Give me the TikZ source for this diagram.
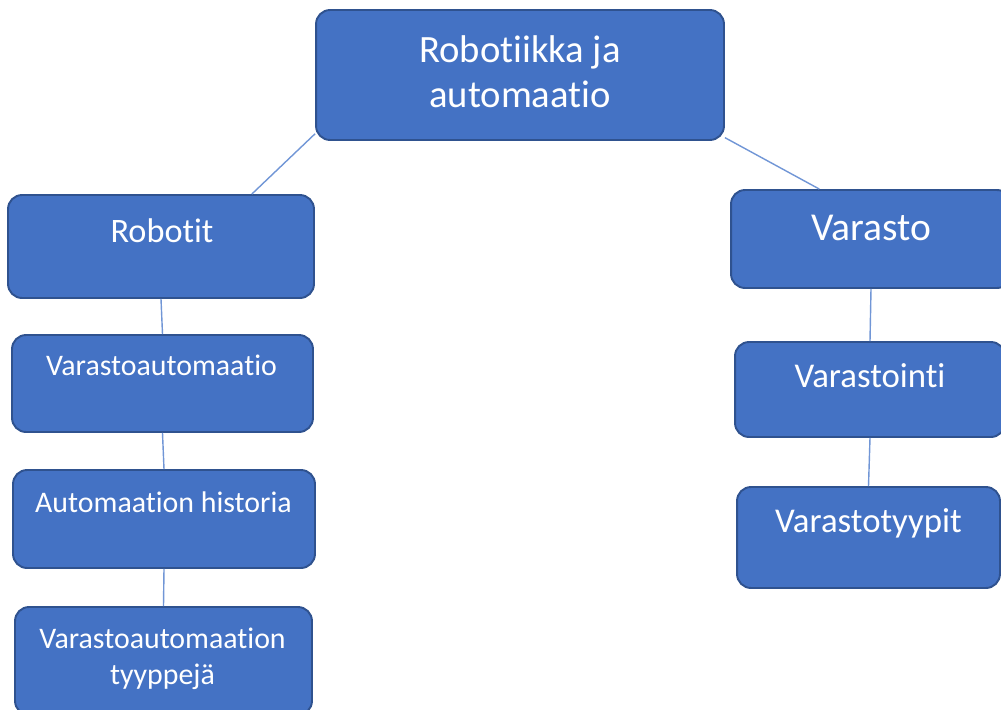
\documentclass[tikz,border=0pt]{standalone}
\usepackage{fontspec}
\setmainfont{Carlito}[Ligatures={NoCommon,NoContextual}, Contextuals={NoAlternate}]
\definecolor{boxblue}{HTML}{4472C4}
\definecolor{boxedge}{HTML}{2F528F}
\definecolor{linkblue}{HTML}{7196D6}
\begin{document}
\begin{tikzpicture}
[
    x=0.02cm, y=-0.02cm,
    box/.style={draw=boxedge, line width=1.1pt, fill=boxblue, rounded corners=8pt, inner sep=0pt},
    lbl/.style={text=white, anchor=base, align=center, inner sep=0pt},
    link/.style={draw=linkblue, line width=0.8pt},
]
\useasboundingbox (0,0) rectangle (1001,710);
\clip (0,0) rectangle (1001,710);
\node [box, minimum width=8.16cm, minimum height=2.6cm] (root) at (520,75) {};
\node [box, minimum width=6.12cm, minimum height=2.06cm] (robotit) at (161,246.5) {};
\node [box, minimum width=5.6cm, minimum height=1.96cm] (varasto) at (871,239) {};
\node [box, minimum width=6.02cm, minimum height=1.94cm] (varastoautomaatio) at (162.5,383.5) {};
\node [box, minimum width=6.04cm, minimum height=1.96cm] (historia) at (164,519) {};
\node [box, minimum width=5.94cm, minimum height=2.16cm] (tyyppeja) at (163.5,661) {};
\node [box, minimum width=5.4cm, minimum height=1.9cm] (varastointi) at (870,389.5) {};
\node [box, minimum width=5.26cm, minimum height=2.02cm] (varastotyypit) at (868.5,537.5) {};

\node [lbl, font=\fontsize{22}{25.5}\selectfont] (root-t) at (520,107) {Robotiikka ja\\automaatio};
\node [lbl, font=\fontsize{19.5}{23}\selectfont] (robotit-t) at (162,242) {Robotit};
\node [lbl, font=\fontsize{22.5}{27}\selectfont] (varasto-t) at (871,240) {Varasto};
\node [lbl, font=\fontsize{17}{20}\selectfont] (varastoautomaatio-t) at (161.5,375) {Varastoautomaatio};
\node [lbl, font=\fontsize{17}{20}\selectfont] (historia-t) at (163.5,512) {Automaation historia};
\node [lbl, font=\fontsize{17}{20}\selectfont] (tyyppeja-t) at (162.5,684) {Varastoautomaation\\tyyppejä};
\node [lbl, font=\fontsize{19.8}{23}\selectfont] (varastointi-t) at (870,387) {Varastointi};
\node [lbl, font=\fontsize{19.8}{23}\selectfont] (varastotyypit-t) at (868.5,532) {Varastotyypit};

\draw [link] (root.196) -- (robotit.30);
\draw [link] (root.343) -- (varasto.136);
\draw [link] (robotit.south) -- (varastoautomaatio.north);
\draw [link] (varastoautomaatio.south) -- (historia.north);
\draw [link] (historia.south) -- (tyyppeja.north);
\draw [link] (varasto.south) -- (varastointi.north);
\draw [link] (varastointi.south) -- (varastotyypit.north);
\end{tikzpicture}
\end{document}
